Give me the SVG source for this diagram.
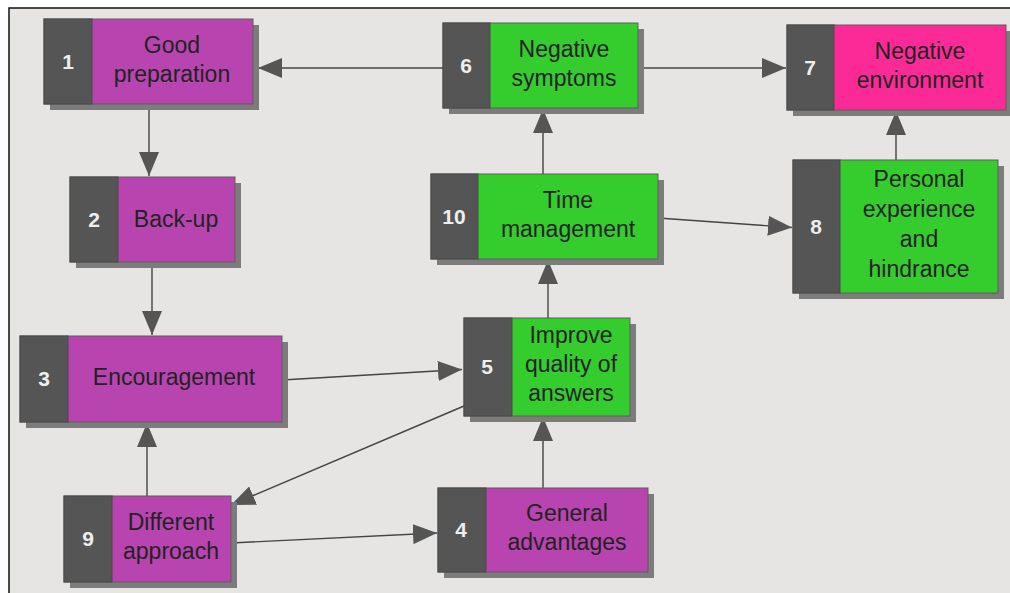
<svg xmlns="http://www.w3.org/2000/svg" width="1010" height="593" viewBox="0 0 1010 593">
  <defs>
    <marker id="arrow" markerUnits="userSpaceOnUse" markerWidth="24" markerHeight="20" refX="24" refY="10" orient="auto">
      <path d="M0,0 L24,10 L0,20 Z" fill="#555"/>
    </marker>
    <style>
      .shadow { fill: #7c7c7c; }
      .num-bg { fill: #555555; stroke: #4a4a4a; stroke-width: 1; }
      .purple { fill: #B844B0; stroke: #5e5e5e; stroke-width: 1; }
      .green { fill: #35CC2E; stroke: #5e5e5e; stroke-width: 1; }
      .pink { fill: #FC2A96; stroke: #5e5e5e; stroke-width: 1; }
      .num { font-family: "Liberation Sans", Arial, sans-serif; font-size: 21px; font-weight: bold; fill: #eeeeee; text-anchor: middle; }
      .label { font-family: "Liberation Sans", Arial, sans-serif; font-size: 23px; fill: #222; text-anchor: middle; }
      .link { stroke: #444; stroke-width: 1.4; fill: none; marker-end: url(#arrow); }
    </style>
  </defs>

  <!-- page and frame -->
  <rect x="0" y="0" width="1010" height="593" fill="#ffffff"/>
  <rect x="9" y="8" width="1001" height="585" fill="#E6E5E3"/>
  <path d="M9,593 L9,8 L1010,8" fill="none" stroke="#111" stroke-width="1.5"/>

  <!-- connectors -->
  <g id="connectors">
    <line class="link" x1="443" y1="68" x2="258" y2="68"/>
    <line class="link" x1="638" y1="68" x2="786" y2="68"/>
    <line class="link" x1="149" y1="104" x2="149" y2="176"/>
    <line class="link" x1="152" y1="262" x2="152" y2="335"/>
    <line class="link" x1="147" y1="496" x2="147" y2="423"/>
    <line class="link" x1="282" y1="380" x2="462" y2="369.5"/>
    <line class="link" x1="464" y1="406" x2="231" y2="505"/>
    <line class="link" x1="231" y1="543" x2="437" y2="533"/>
    <line class="link" x1="543" y1="488" x2="543" y2="417"/>
    <line class="link" x1="548" y1="318" x2="548" y2="260"/>
    <line class="link" x1="543" y1="174" x2="543" y2="109"/>
    <line class="link" x1="658" y1="218" x2="792" y2="227.5"/>
    <line class="link" x1="896" y1="160" x2="896" y2="111"/>
  </g>

  <!-- 1 Good preparation -->
  <g id="node1">
    <rect class="shadow" x="50" y="25" width="209" height="85"/>
    <rect class="purple" x="44" y="19" width="209" height="85"/>
    <rect class="num-bg" x="44" y="19" width="48" height="85"/>
    <text class="num" x="68" y="69">1</text>
    <text class="label" x="172" y="53">Good</text>
    <text class="label" x="172" y="82">preparation</text>
  </g>

  <!-- 2 Back-up -->
  <g id="node2">
    <rect class="shadow" x="76" y="183" width="165" height="85"/>
    <rect class="purple" x="70" y="177" width="165" height="85"/>
    <rect class="num-bg" x="70" y="177" width="48" height="85"/>
    <text class="num" x="94" y="227">2</text>
    <text class="label" x="176" y="227">Back-up</text>
  </g>

  <!-- 3 Encouragement -->
  <g id="node3">
    <rect class="shadow" x="26" y="342" width="262" height="86"/>
    <rect class="purple" x="20" y="336" width="262" height="86"/>
    <rect class="num-bg" x="20" y="336" width="48" height="86"/>
    <text class="num" x="44" y="386">3</text>
    <text class="label" x="174" y="385">Encouragement</text>
  </g>

  <!-- 4 General advantages -->
  <g id="node4">
    <rect class="shadow" x="444" y="494" width="210" height="84"/>
    <rect class="purple" x="438" y="488" width="210" height="84"/>
    <rect class="num-bg" x="438" y="488" width="48" height="84"/>
    <text class="num" x="461" y="537">4</text>
    <text class="label" x="567" y="521">General</text>
    <text class="label" x="567" y="550">advantages</text>
  </g>

  <!-- 5 Improve quality of answers -->
  <g id="node5">
    <rect class="shadow" x="470" y="324" width="166" height="98"/>
    <rect class="green" x="464" y="318" width="166" height="98"/>
    <rect class="num-bg" x="464" y="318" width="48" height="98"/>
    <text class="num" x="487" y="374">5</text>
    <text class="label" x="571" y="343">Improve</text>
    <text class="label" x="571" y="372">quality of</text>
    <text class="label" x="571" y="401">answers</text>
  </g>

  <!-- 6 Negative symptoms -->
  <g id="node6">
    <rect class="shadow" x="449" y="29" width="195" height="85"/>
    <rect class="green" x="443" y="23" width="195" height="85"/>
    <rect class="num-bg" x="443" y="23" width="47" height="85"/>
    <text class="num" x="466" y="73">6</text>
    <text class="label" x="564" y="57">Negative</text>
    <text class="label" x="564" y="86">symptoms</text>
  </g>

  <!-- 7 Negative environment -->
  <g id="node7">
    <rect class="shadow" x="793" y="31" width="219" height="85"/>
    <rect class="pink" x="787" y="25" width="219" height="85"/>
    <rect class="num-bg" x="787" y="25" width="47" height="85"/>
    <text class="num" x="810" y="75">7</text>
    <text class="label" x="920" y="59">Negative</text>
    <text class="label" x="920" y="88">environment</text>
  </g>

  <!-- 8 Personal experience and hindrance -->
  <g id="node8">
    <rect class="shadow" x="799" y="166" width="205" height="133"/>
    <rect class="green" x="793" y="160" width="205" height="133"/>
    <rect class="num-bg" x="793" y="160" width="47" height="133"/>
    <text class="num" x="816" y="234">8</text>
    <text class="label" x="919" y="187">Personal</text>
    <text class="label" x="919" y="217">experience</text>
    <text class="label" x="919" y="247">and</text>
    <text class="label" x="919" y="277">hindrance</text>
  </g>

  <!-- 9 Different approach -->
  <g id="node9">
    <rect class="shadow" x="70" y="502" width="167" height="86"/>
    <rect class="purple" x="64" y="496" width="167" height="86"/>
    <rect class="num-bg" x="64" y="496" width="48" height="86"/>
    <text class="num" x="88" y="546">9</text>
    <text class="label" x="171" y="530">Different</text>
    <text class="label" x="171" y="559">approach</text>
  </g>

  <!-- 10 Time management -->
  <g id="node10">
    <rect class="shadow" x="437" y="180" width="227" height="85"/>
    <rect class="green" x="431" y="174" width="227" height="85"/>
    <rect class="num-bg" x="431" y="174" width="47" height="85"/>
    <text class="num" x="454" y="224">10</text>
    <text class="label" x="568" y="208">Time</text>
    <text class="label" x="568" y="237">management</text>
  </g>
</svg>
